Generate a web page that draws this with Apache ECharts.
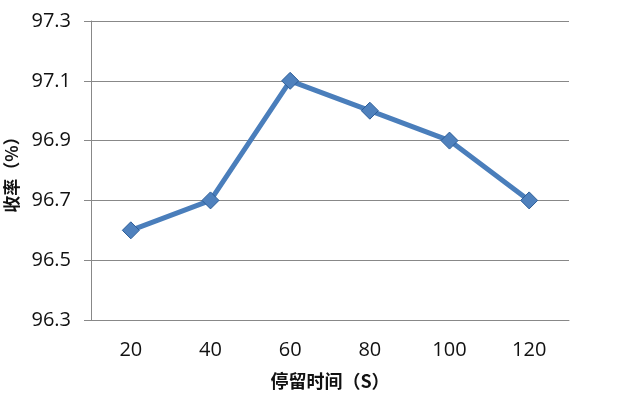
<!DOCTYPE html>
<html><head><meta charset="utf-8">
<script src="https://cdn.jsdelivr.net/npm/echarts@6/dist/echarts.min.js"></script>
<style>html,body{margin:0;padding:0;background:#fff}#c{width:617px;height:393px}</style>
</head><body><div id="c"></div>
<script>
const categories = ['20','40','60','80','100','120'];
const yieldValues = [96.6, 96.7, 97.1, 97.0, 96.9, 96.7];
const yTicks = [96.3, 96.5, 96.7, 96.9, 97.1, 97.3];

const chart = echarts.init(document.getElementById('c'), null, {renderer:'canvas'});
chart.setOption({
  animation:false,
  grid:{left:91,right:48,top:21,bottom:73,containLabel:false,outerBoundsMode:'none'},
  xAxis:{
    type:'category', data:categories, boundaryGap:true,
    name:'停留时间（S）', nameLocation:'middle', nameGap:52,
    nameTextStyle:{fontFamily:'Noto Sans CJK SC',fontWeight:'bold',fontSize:18,color:'#111'},
    axisLine:{lineStyle:{color:'#888',width:1}},
    axisTick:{show:false},
    axisLabel:{fontFamily:'Open Sans',fontSize:20,color:'#111',margin:20}
  },
  yAxis:{
    type:'value', min:yTicks[0], max:yTicks[yTicks.length-1],
    name:'收率（%）', nameLocation:'middle', nameGap:70, nameRotate:90,
    nameTextStyle:{fontFamily:'Noto Sans CJK SC',fontWeight:'bold',fontSize:17,color:'#111'},
    axisLine:{show:true,lineStyle:{color:'#888',width:1}},
    axisTick:{show:true,inside:false,length:7,lineStyle:{color:'#888'},customValues:yTicks},
    axisLabel:{fontFamily:'Open Sans',fontSize:20,color:'#111',margin:20,customValues:yTicks,
      formatter:v=>v.toFixed(1)},
    splitLine:{show:true,lineStyle:{color:'#888',width:1}}
  },
  series:[{
    type:'line', data:yieldValues,
    symbol:'diamond', symbolSize:17,
    lineStyle:{color:'#4a7ebb',width:5},
    itemStyle:{color:'#4f81bd',borderColor:'#2c5d98',borderWidth:1}
  }]
});
</script></body></html>
